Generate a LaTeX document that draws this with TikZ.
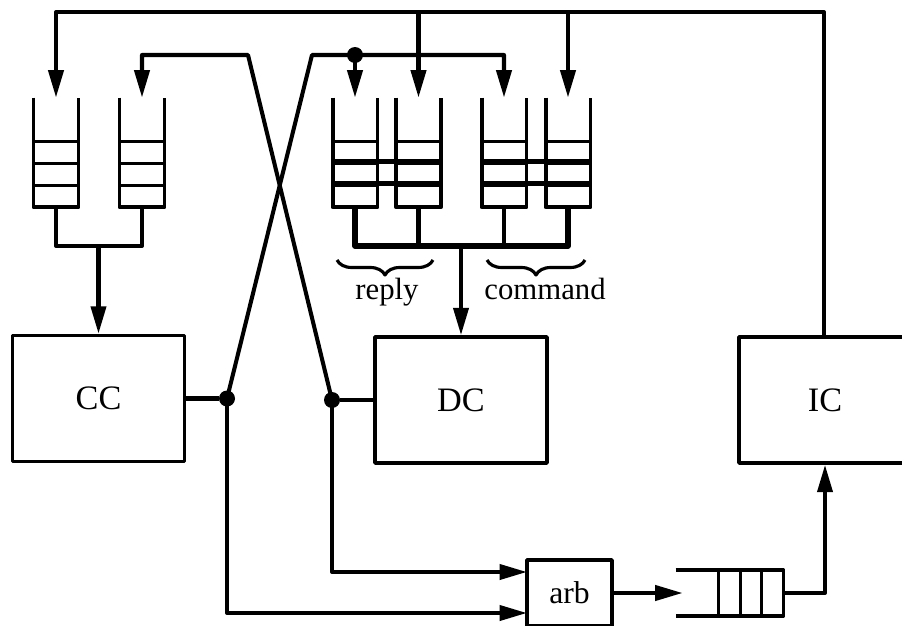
\documentclass[tikz,border=0pt]{standalone}
\usepackage{fontspec}
\setmainfont{Liberation Serif}
\usetikzlibrary{arrows.meta,positioning,calc,decorations.pathreplacing}

\begin{document}
\begin{tikzpicture}[
        x=0.02cm, y=-0.02cm,
        line join=round,
        ctrl/.style={draw, line width=2pt, minimum width=3.44cm,
            minimum height=2.52cm, font=\fontsize{19.5}{22}\selectfont},
        arbbox/.style={draw, line width=2pt, minimum width=1.7cm,
            minimum height=1.32cm, font=\fontsize{18}{21}\selectfont},
        queue/.style={minimum width=0.88cm, minimum height=2.18cm, inner sep=0pt},
        hqueue/.style={minimum width=2.14cm, minimum height=0.9cm, inner sep=0pt},
        wall/.style={line width=2.1pt},
        cell/.style={line width=1.5pt},
        bar/.style={line width=3pt},
        wire/.style={line width=2.3pt},
        arrow/.style={-{Triangle[length=0.55cm, width=0.3cm]}, line width=2.3pt},
        dot/.style={circle, fill, inner sep=0pt, minimum size=0.32cm},
        brc/.style={decorate, decoration={brace, mirror, amplitude=0.3cm},
            line width=1.8pt},
        lbl/.style={font=\fontsize{17.5}{20}\selectfont, inner sep=0pt}
    ]
    \useasboundingbox (0,0) rectangle (902,625);

    % controllers
    \node[ctrl] (cc) at (98.5,398.5) {CC};
    \node[ctrl] (dc) at (461,400) {DC};
    \node[ctrl] (ic) at (825,400) {IC};
    \node[arbbox] (arb) at (569.5,593) {arb};

    % queues
    \node[queue] (q1) at (56,152.5) {};
    \node[queue] (q2) at (142,152.5) {};
    \node[queue] (qa) at (355,152.5) {};
    \node[queue] (qb) at (418.5,152.5) {};
    \node[queue] (qc) at (504,152.5) {};
    \node[queue] (qd) at (568,152.5) {};
    \node[hqueue] (bq) at (729.5,593) {};

    \foreach \q in {q1,q2,qa,qb,qc,qd} {
        \draw[wall] (\q.north west) -- (\q.south west) -- (\q.south east) -- (\q.north east);
        \foreach \k in {1,2,3}
            \draw[cell] ($(\q.south west)!\k/5!(\q.north west)$) --
                ($(\q.south east)!\k/5!(\q.north east)$);
    }
    \foreach \l/\r in {qa/qb,qc/qd}
        \foreach \f in {0.22,0.42}
            \draw[bar] ($(\l.south west)!\f!(\l.north west)$) --
                ($(\r.south east)!\f!(\r.north east)$);

    \draw[wall] (bq.north west) -- (bq.north east) -- (bq.south east) -- (bq.south west);
    \foreach \k in {1,2,3}
        \draw[cell] ($(bq.north east)!\k/5!(bq.north west)$) --
            ($(bq.south east)!\k/5!(bq.south west)$);

    % junctions
    \node[dot] (ccdot) at (227,398.5) {};
    \node[dot] (dcdot) at (332,400) {};
    \node[dot] (rdot) at (355,55) {};
    \coordinate (tr) at (824,12);
    \coordinate (xl) at (248,55);
    \coordinate (xr) at (312,55);
    \coordinate (jl) at (98.5,246);
    \coordinate (jm) at (461,246);
    \coordinate (in1) at (527,572);
    \coordinate (in2) at (527,613);

    % feedback from IC
    \draw[arrow] (ic.north -| tr) -- (tr) -| (q1.north);
    \draw[arrow] (tr -| qb.north) -- (qb.north);
    \draw[arrow] (tr -| qd.north) -- (qd.north);

    % crossing lines
    \draw[wire] (cc.east) -- (ccdot);
    \draw[wire] (dcdot) -- (dc.west);
    \draw[arrow] (ccdot.center) -- (xr) -| (qc.north);
    \draw[arrow] (rdot.center) -- (qa.north);
    \draw[arrow] (dcdot.center) -- (xl) -| (q2.north);

    % queue outputs
    \draw[wire] (q1.south) |- (jl) -| (q2.south);
    \draw[arrow] (jl) -- (cc.north);
    \draw[bar] (qa.south) |- (jm) -| (qd.south);
    \draw[wire] (qb.south) -- (qb.south |- jm);
    \draw[wire] (qc.south) -- (qc.south |- jm);
    \draw[arrow] (jm) -- (dc.north);

    \draw[brc] (337,260) -- (433,260);
    \draw[brc] (487,260) -- (585,260);
    \node[lbl, anchor=base] (replylbl) at (387,299) {reply};
    \node[lbl, anchor=base] (cmdlbl) at (545,299) {command};

    % to the arbiter and IC
    \draw[arrow] (dcdot.center) |- (in1);
    \draw[arrow] (ccdot.center) |- (in2);
    \draw[arrow, shorten >=-0.14cm] (arb.east) -- (bq.west);
    \draw[arrow] (bq.east) -| (ic.south);
\end{tikzpicture}
\end{document}
